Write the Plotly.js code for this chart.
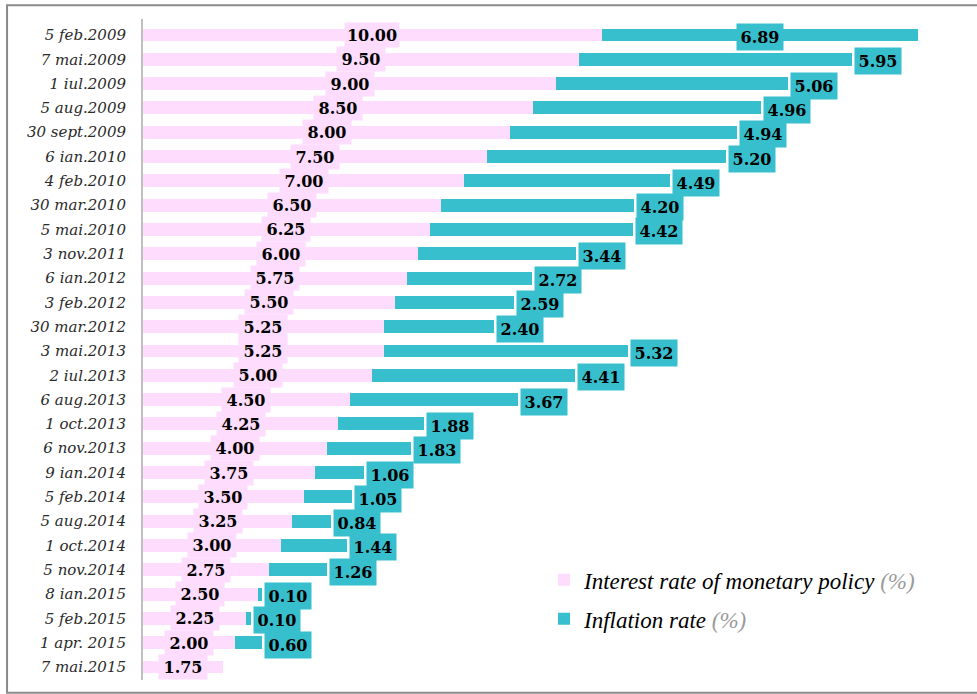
<!DOCTYPE html>
<html>
<head>
<meta charset="utf-8">
<script src="https://cdn.plot.ly/plotly-3.0.1.min.js"></script>
<style>
html,body{margin:0;padding:0;background:#fff;}
#chart{width:977px;height:694px;}
</style>
</head>
<body>
<div id="chart"></div>
<script>
const categories = ["5 feb.2009","7 mai.2009","1 iul.2009","5 aug.2009","30 sept.2009","6 ian.2010","4 feb.2010","30 mar.2010","5 mai.2010","3 nov.2011","6 ian.2012","3 feb.2012","30 mar.2012","3 mai.2013","2 iul.2013","6 aug.2013","1 oct.2013","6 nov.2013","9 ian.2014","5 feb.2014","5 aug.2014","1 oct.2014","5 nov.2014","8 ian.2015","5 feb.2015","1 apr. 2015","7 mai.2015"];
const interestRate = [10.00,9.50,9.00,8.50,8.00,7.50,7.00,6.50,6.25,6.00,5.75,5.50,5.25,5.25,5.00,4.50,4.25,4.00,3.75,3.50,3.25,3.00,2.75,2.50,2.25,2.00,1.75];
const inflationRate = [6.89,5.95,5.06,4.96,4.94,5.20,4.49,4.20,4.42,3.44,2.72,2.59,2.40,5.32,4.41,3.67,1.88,1.83,1.06,1.05,0.84,1.44,1.26,0.10,0.10,0.60,null];

const PINK = '#fddcfd';
const TEAL = '#38bfcd';

const traces = [
  {type:'bar', orientation:'h', y:categories, x:interestRate, name:'Interest rate of monetary policy <span style="color:#9a9a9a">(%)</span>',
   marker:{color:PINK, line:{width:0}}, legendgroup:'a', hoverinfo:'skip'},
  {type:'bar', orientation:'h', y:categories, x:inflationRate, name:'Inflation rate <span style="color:#9a9a9a">(%)</span>',
   marker:{color:TEAL, line:{width:0}}, legendgroup:'b', hoverinfo:'skip'}
];

const labelFont = {family:'DejaVu Serif', size:16, weight:'bold', color:'#000'};
const totals = interestRate.map((v,i)=> v + (inflationRate[i] || 0));
const maxTotal = Math.max(...totals);
const annotations = [];
categories.forEach((c,i)=>{
  const ir = interestRate[i];
  annotations.push({x:ir/2, y:c, xref:'x', yref:'y', text:ir.toFixed(2), showarrow:false,
    font:labelFont, bgcolor:PINK, width: ir>=10?54:48, height:24, borderpad:0, xanchor:'center', yanchor:'middle'});
  const inf = inflationRate[i];
  if (inf !== null) {
    const inside = totals[i] === maxTotal;
    annotations.push({x: inside ? ir + inf/2 : ir + inf, y:c, xref:'x', yref:'y', text:inf.toFixed(2), showarrow:false,
      font:labelFont, bgcolor:TEAL, width:46, height:26, borderpad:0,
      xanchor: inside ? 'center' : 'left', yanchor:'middle', xshift: inside ? 0 : 2, yshift:-2});
  }
});

const layout = {
  width:977, height:694,
  margin:{l:143, r:8, t:19, b:14},
  paper_bgcolor:'#fff', plot_bgcolor:'#fff',
  barmode:'stack', bargap:0.47,
  showlegend:true,
  legend:{x:0.4855, xanchor:'left', y:0.184, yanchor:'top', traceorder:'grouped', tracegroupgap:6,
    font:{family:'Liberation Serif', size:23, style:'italic', color:'#000'}, bgcolor:'rgba(0,0,0,0)'},
  xaxis:{range:[0,18], visible:false, fixedrange:true},
  yaxis:{type:'category', autorange:'reversed', showline:true, linecolor:'#bfbfbf', linewidth:2,
    showgrid:false, zeroline:false, ticks:'outside', ticklen:12, tickcolor:'rgba(0,0,0,0)',
    tickfont:{family:'DejaVu Serif', size:15, style:'italic', color:'#2a2a2a'}, fixedrange:true},
  shapes:[{type:'rect', xref:'paper', yref:'paper', x0:-0.1646, x1:1.06, y0:-0.0193, y1:1.0208,
    line:{color:'#8a8a8a', width:2}, fillcolor:'rgba(0,0,0,0)', layer:'below'}],
  annotations:annotations
};

Plotly.newPlot('chart', traces, layout, {displayModeBar:false, staticPlot:true});
</script>
</body>
</html>
